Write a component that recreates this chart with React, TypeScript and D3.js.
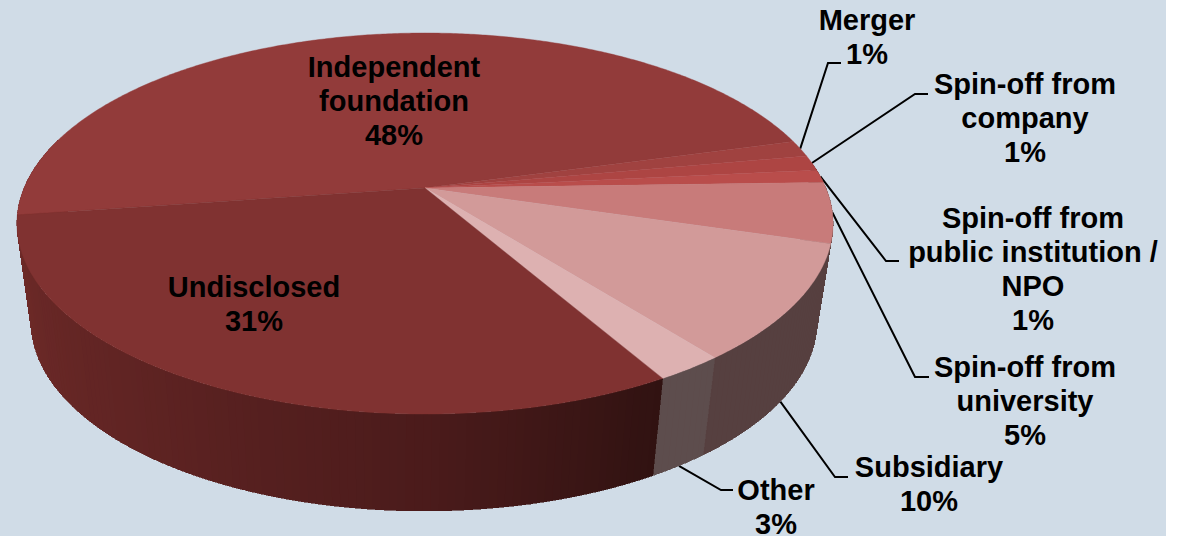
import React from "react";
import * as d3 from "d3";

const categories = ["Independent foundation", "Merger", "Spin-off from company", "Spin-off from public institution / NPO", "Spin-off from university", "Subsidiary", "Other", "Undisclosed"];
const shares = [48, 1.4, 1.3, 1.1, 5.1, 9.8, 2.3, 31];
const shareLabels = ["48%", "1%", "1%", "1%", "5%", "10%", "3%", "31%"];
const labelLines = [["Independent", "foundation"], ["Merger"], ["Spin-off from", "company"], ["Spin-off from", "public institution /", "NPO"], ["Spin-off from", "university"], ["Subsidiary"], ["Other"], ["Undisclosed"]];

const topColors = ["#923B3A", "#A04240", "#AD4543", "#B94D4B", "#C87B7A", "#D29A99", "#DDB1B1", "#803231"];
const wallDomain = [60, 90, 130, 172, 200];
const wallRange = ["#301211", "#4b1b1b", "#602423", "#702b29", "#702b29"];
const wallOther = "#5d4d4d";
const wallSubsidiary = "#564040";

// label anchor x, first baseline y, and leader elbow / end (null: label sits on the pie)
const labelX = [394, 867, 1025, 1033, 1025, 929, 776, 254];
const labelY = [77, 30, 94, 228, 377, 477, 500, 297];
const leaderElbow: ([number, number, number] | null)[] = [null, [828, 841, 63], [915, 928, 94], [886, 899, 261], [915, 929, 377], [835, 848, 477], [721, 733, 490], null];
const leaderOnWall = [false, false, false, false, false, true, true, false];

const W = 1178, H = 536, PANEL_W = 1166;
const K = 0.1864;
const top = { x: 425, y: 188, a: 400.9, b: 183.9 };
const low = { x: 424, y: 286.8, a: 386, b: 182.4 };
const project = (p: typeof top, tDeg: number): [number, number] => {
  const t = (tDeg * Math.PI) / 180;
  const u = Math.cos(t), v = Math.sin(t), d = 1 - K * v;
  return [p.x + (p.a * u) / d, p.y + (p.b * v) / d];
};

const pieGen = d3.pie<number>().sort(null).startAngle((261.8 * Math.PI) / 180).endAngle((261.8 * Math.PI) / 180 + 2 * Math.PI);
const arcs = pieGen(shares).map((a) => ({ index: a.index, t0: (a.startAngle * 180) / Math.PI - 90, t1: (a.endAngle * 180) / Math.PI - 90 }));
const line = d3.line();
const wallScale = d3.scaleLinear<string>().domain(wallDomain).range(wallRange).interpolate(d3.interpolateRgb);

function wedge(t0: number, t1: number) {
  const pts: [number, number][] = [[top.x, top.y]];
  for (const t of d3.range(t0, t1, 0.5)) pts.push(project(top, t));
  pts.push(project(top, t1));
  return line(pts) + "Z";
}

function wallQuads() {
  const out: { d: string; fill: string; order: number }[] = [];
  arcs.forEach((s) => {
    for (const shift of [-360, 0, 360]) {
      const a = Math.max(s.t0 + shift, -8), b = Math.min(s.t1 + shift, 196);
      if (a >= b) continue;
      for (let t = a; t < b; t += 1) {
        const e = Math.min(t + 1, b);
        const mid = (t + e) / 2;
        const name = categories[s.index];
        const fill = name === "Other" ? wallOther : name === "Subsidiary" || name.startsWith("Spin") ? wallSubsidiary : wallScale(mid);
        const d = line([project(top, t), project(top, e), project(low, e), project(low, t)]) + "Z";
        out.push({ d, fill, order: Math.sin((mid * Math.PI) / 180) });
      }
    }
  });
  return out.sort((x, y) => x.order - y.order);
}

export default function App() {
  const font = '"Liberation Sans", Arial, sans-serif';
  return (
    <svg width={W} height={H} style={{ position: "fixed", left: 0, top: 0 }} fontFamily={font}>
      <rect width={W} height={H} fill="#fff" />
      <rect width={PANEL_W} height={H} fill="#D0DCE7" />
      {leaderElbow.map((el, i) => {
        if (!el) return null;
        const s = arcs[i];
        const start = project(leaderOnWall[i] ? low : top, (s.t0 + s.t1) / 2);
        return <path key={i} d={line([start, [el[0], el[2]], [el[1], el[2]]]) as string} fill="none" stroke="#000" strokeWidth={2} />;
      })}
      <g shapeRendering="crispEdges">
        {wallQuads().map((q, i) => (
          <path key={i} d={q.d} fill={q.fill} stroke={q.fill} strokeWidth={0.6} />
        ))}
      </g>
      {arcs.map((s) => (
        <path key={s.index} d={wedge(s.t0, s.t1)} fill={topColors[s.index]} stroke={topColors[s.index]} strokeWidth={0.4} />
      ))}
      {labelLines.map((ls, i) => (
        <text key={i} x={labelX[i]} y={labelY[i]} textAnchor="middle" fontSize={29} fontWeight={700} fill="#000">
          {[...ls, shareLabels[i]].map((l, j) => (
            <tspan key={j} x={labelX[i]} dy={j === 0 ? 0 : 34}>{l}</tspan>
          ))}
        </text>
      ))}
    </svg>
  );
}
